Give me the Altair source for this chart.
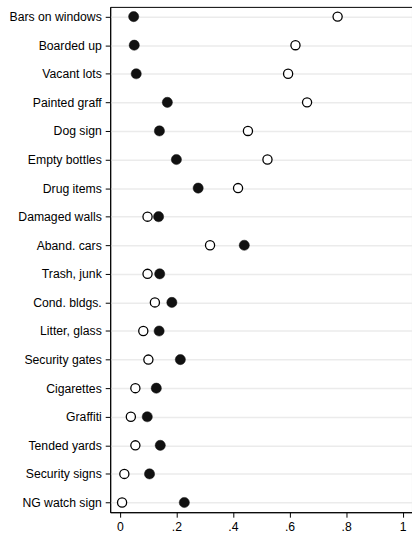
import altair as alt
import pandas as pd

# Neighbourhood disorder items, proportion observed in two kinds of blocks
items = [
    "Bars on windows", "Boarded up", "Vacant lots", "Painted graff", "Dog sign",
    "Empty bottles", "Drug items", "Damaged walls", "Aband. cars", "Trash, junk",
    "Cond. bldgs.", "Litter, glass", "Security gates", "Cigarettes", "Graffiti",
    "Tended yards", "Security signs", "NG watch sign",
]
filled_vals = [0.049, 0.051, 0.058, 0.168, 0.140, 0.200, 0.277, 0.137, 0.440,
               0.141, 0.184, 0.139, 0.214, 0.129, 0.097, 0.143, 0.105, 0.228]
open_vals = [0.770, 0.621, 0.595, 0.662, 0.453, 0.522, 0.418, 0.098, 0.319,
             0.098, 0.124, 0.083, 0.101, 0.055, 0.039, 0.055, 0.016, 0.008]
x_ticks = [0, 0.2, 0.4, 0.6, 0.8, 1]

df = pd.DataFrame({
    "item": items * 2,
    "value": filled_vals + open_vals,
    "group": ["filled"] * len(items) + ["open"] * len(items),
})

FONT = "Liberation Sans"

x_enc = alt.X(
    "value:Q",
    scale=alt.Scale(domain=[-0.034, 1.033], nice=False, zero=False),
    axis=alt.Axis(
        values=x_ticks, title=None, grid=False, tickSize=5, tickColor="black",
        domainColor="black", labelColor="black", labelFontSize=12.3, labelFont=FONT,
        labelPadding=3,
        labelExpr="datum.value == 0 ? '0' : datum.value == 1 ? '1' : replace(format(datum.value, '.1f'), '0.', '.')",
    ),
)
y_enc = alt.Y(
    "item:N", sort=items,
    scale=alt.Scale(type="point", padding=0.34),
    axis=alt.Axis(
        title=None, grid=True, gridColor="#ebebeb", gridWidth=1.5,
        tickSize=5, tickColor="black", domainColor="black",
        labelColor="black", labelFontSize=12.3, labelFont=FONT, labelPadding=4,
    ),
)

base = alt.Chart(df)

open_pts = base.transform_filter(alt.datum.group == "open").mark_point(
    shape="circle", filled=True, fill="white", stroke="black",
    strokeWidth=1.3, size=85, opacity=1,
).encode(x=x_enc, y=y_enc)

filled_pts = base.transform_filter(alt.datum.group == "filled").mark_point(
    shape="circle", filled=True, fill="#111111", stroke="#111111",
    strokeWidth=0.5, size=105, opacity=1,
).encode(x=x_enc, y=y_enc)

chart = (
    alt.layer(open_pts, filled_pts)
    .properties(
        width=304, height=509,
        autosize=alt.AutoSizeParams(type="none"),
        padding={"left": 111, "top": 5, "right": 0, "bottom": 19},
        background="white",
    )
    .configure_view(stroke="black", strokeWidth=1)
)

chart.save("out.html", embed_options={"renderer": "svg", "actions": False})
